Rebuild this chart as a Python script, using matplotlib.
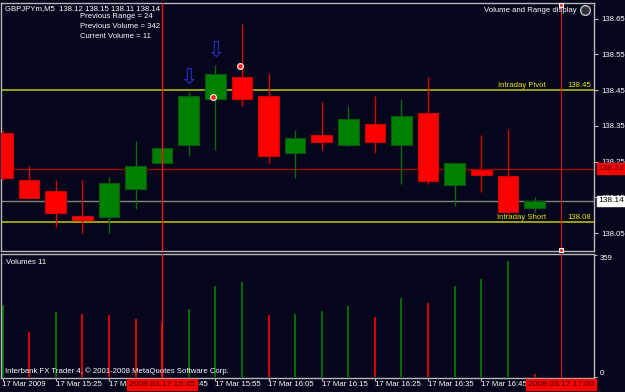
import matplotlib
matplotlib.use("Agg")
import matplotlib.pyplot as plt
from matplotlib.lines import Line2D
import numpy as np

# ---------------- data ----------------
times = ["15:15", "15:20", "15:25", "15:30", "15:35", "15:40", "15:45", "15:50",
         "15:55", "16:00", "16:05", "16:10", "16:15", "16:20", "16:25", "16:30",
         "16:35", "16:40", "16:45", "16:50", "16:55"]
opens = [138.33, 138.20, 138.167, 138.097, 138.095, 138.174, 138.245, 138.296,
         138.424, 138.486, 138.434, 138.274, 138.325, 138.296, 138.356, 138.296,
         138.386, 138.186, 138.227, 138.21, 138.12]
highs = [138.34, 138.237, 138.198, 138.198, 138.207, 138.307, 138.29, 138.445,
         138.52, 138.635, 138.495, 138.338, 138.416, 138.407, 138.434, 138.425,
         138.486, 138.25, 138.326, 138.34, 138.15]
lows = [138.20, 138.145, 138.067, 138.049, 138.049, 138.117, 138.243, 138.266,
        138.284, 138.406, 138.245, 138.205, 138.284, 138.294, 138.275, 138.187,
        138.187, 138.126, 138.165, 138.10, 138.11]
closes = [138.205, 138.147, 138.105, 138.087, 138.189, 138.237, 138.287, 138.434,
          138.495, 138.424, 138.266, 138.316, 138.305, 138.368, 138.305, 138.377,
          138.196, 138.246, 138.214, 138.11, 138.14]
volumes = [212, 134, 191, 186, 184, 171, 160, 200, 269, 279, 184, 186, 194, 209,
           177, 233, 219, 268, 289, 342, 11]

price_ticks = [138.05, 138.15, 138.25, 138.35, 138.45, 138.55, 138.65]
pivot_level = 138.45
short_level = 138.08
red_level = 138.23
bid_level = 138.14
time_tick_idx = [0, 2, 4, 6, 8, 10, 12, 14, 16, 18]
time_tick_labels = ["17 Mar 2009", "17 Mar 15:25", "17 Mar 15:35", "17 Mar 15:45",
                    "17 Mar 15:55", "17 Mar 16:05", "17 Mar 16:15", "17 Mar 16:25",
                    "17 Mar 16:35", "17 Mar 16:45"]
cursor_idx = 6
future_idx = 21
arrow_idx = [7, 8]
marker_pts = [(8, 138.43), (9, 138.517)]

# ---------------- style ----------------
BG = "#05051c"
GRID = "#b8b8b8"
GREEN = "#008000"
GREEN_EDGE = "#0a5a0a"
RED = "#ff0000"
YELLOW = "#b8b800"
YTEXT = "#e8e800"
FONT = "Liberation Sans"
FS = 5.6

plt.rcParams["font.family"] = [FONT, "DejaVu Sans"]

W, H = 625, 392
fig = plt.figure(figsize=(W / 100, H / 100), dpi=100, facecolor=BG)


def rect(l, t, r, b):
    return [l / W, 1 - b / H, (r - l) / W, (b - t) / H]


x0_px, step_px = 2.5, 26.6
xl = (1 - x0_px) / step_px
xr = (594 - x0_px) / step_px

ax = fig.add_axes(rect(1, 3, 594, 251), facecolor=BG, zorder=2)
axv = fig.add_axes(rect(1, 254, 594, 378), facecolor=BG, zorder=1)

for a in (ax, axv):
    a.set_xlim(xl, xr)
    for s in a.spines.values():
        s.set_color(GRID)
        s.set_linewidth(1.0)

ax.set_ylim(138.0, 138.694)
axv.set_ylim(-2, 362)

# candles
x = np.arange(len(opens))
for i in x:
    o, h, l, c = opens[i], highs[i], lows[i], closes[i]
    up = c >= o
    col = GREEN if up else RED
    wcol = "#0c6a0c" if up else "#e00000"
    ax.vlines(i, l, h, color=wcol, lw=1.0, zorder=2)
    body = max(abs(c - o), 0.004)
    ax.bar(i, body, bottom=min(o, c), width=0.78, color=col,
           edgecolor=GREEN_EDGE if up else "#d00000", linewidth=0.8, zorder=3)

# horizontal levels
ax.axhline(pivot_level, color=YELLOW, lw=1.2, zorder=1)
ax.axhline(short_level, color=YELLOW, lw=1.2, zorder=1)
ax.axhline(red_level, color="#a00000", lw=1.0, zorder=1)
ax.axhline(bid_level, color="#7c8a7c", lw=1.0, zorder=1)

ax.text((546 - x0_px) / step_px, pivot_level + 0.004, "Intraday Pivot",
        color=YTEXT, fontsize=FS, ha="right", va="bottom", zorder=5)
ax.text((591 - x0_px) / step_px, pivot_level + 0.004, "%.2f" % pivot_level,
        color=YTEXT, fontsize=FS, ha="right", va="bottom", zorder=5)
ax.text((546 - x0_px) / step_px, short_level + 0.004, "Intraday Short",
        color=YTEXT, fontsize=FS, ha="right", va="bottom", zorder=5)
ax.text((591 - x0_px) / step_px, short_level + 0.004, "%.2f" % short_level,
        color=YTEXT, fontsize=FS, ha="right", va="bottom", zorder=5)

# vertical lines
for a in (ax, axv):
    a.axvline(cursor_idx, color="#ff1010", lw=1.0, zorder=6)
    a.axvline(future_idx, color="#e01010", lw=0.8, zorder=6)
ax.plot([future_idx, future_idx], [138.689, 138.0015], ls="none", marker="s",
        ms=3.2, mfc="#ff3030", mec="white", mew=0.8, clip_on=False, zorder=7)

# arrows above candles
for i in arrow_idx:
    ax.annotate("\u21e9", xy=(i, highs[i]), xytext=(0, 3), textcoords="offset points",
                ha="center", va="bottom", fontsize=16, color="#2030c8",
                family="DejaVu Sans", zorder=6)
for (i, p) in marker_pts:
    ax.plot(i - 0.08, p, marker="o", ms=4.2, mfc="#ff2020", mec="#f0e0e0",
            mew=0.9, zorder=7)

# right price axis
ax.yaxis.tick_right()
ax.set_yticks(price_ticks)
ax.set_yticklabels(["%.2f" % t for t in price_ticks])
ax.tick_params(axis="y", direction="out", length=3, width=0.8, pad=2,
               colors=GRID, labelcolor="white", labelsize=FS)
ax.set_xticks([])

# price boxes
ax.text(1.008, red_level, "%.2f" % red_level, transform=ax.get_yaxis_transform(),
        fontsize=FS + 0.4, color="#500000", ha="left", va="center", zorder=8,
        clip_on=False,
        bbox=dict(boxstyle="square,pad=0.22", fc="#ff0000", ec="#ff0000"))
ax.text(1.008, bid_level, "%.2f" % bid_level, transform=ax.get_yaxis_transform(),
        fontsize=FS + 0.4, color="black", ha="left", va="center", zorder=8,
        clip_on=False,
        bbox=dict(boxstyle="square,pad=0.22", fc="white", ec="white"))

# volumes
prev = None
for i, v in enumerate(volumes):
    col = GREEN if (prev is None or v > prev) else RED
    axv.vlines(i, 0, v, color=col, lw=1.2, zorder=2)
    prev = v

axv.yaxis.tick_right()
axv.set_yticks([0, 359])
axv.set_yticklabels(["0", "359"])
axv.tick_params(axis="y", direction="out", length=2, width=0.8, pad=2,
                colors=GRID, labelcolor="white", labelsize=FS)
ylabs = axv.get_yticklabels()
ylabs[0].set_verticalalignment("bottom")
ylabs[1].set_verticalalignment("top")
axv.set_xticks(time_tick_idx)
axv.set_xticklabels(time_tick_labels)
axv.tick_params(axis="x", direction="out", length=2.5, width=0.8, pad=0,
                colors=GRID, labelcolor="white", labelsize=FS)
for lab in axv.get_xticklabels():
    lab.set_horizontalalignment("left")

# time boxes
for idx, txt in ((cursor_idx, "2009.03.17 " + times[cursor_idx]),
                 (future_idx, "2009.03.17 17:00")):
    axv.text(idx, -0.025, txt,
             transform=axv.get_xaxis_transform(), fontsize=FS + 0.4, color="#300000",
             ha="center", va="top", zorder=8, clip_on=False,
             bbox=dict(boxstyle="square,pad=0.2", fc="#ff0000", ec="#ff0000"))

axv.text(5 / 594, 1 - 8 / 124, "Volumes %d" % volumes[-1], transform=axv.transAxes,
         color="white", fontsize=FS, ha="left", va="center")
axv.text(4 / 594, 1 - 117 / 124,
         "Interbank FX Trader 4, \u00a9 2001-2008 MetaQuotes Software Corp.",
         transform=axv.transAxes, color="white", fontsize=FS, ha="left", va="center",
         zorder=9)

# header texts
hdr = "GBPJPYm,M5  %.2f %.2f %.2f %.2f" % (opens[-1], highs[-1], lows[-1], closes[-1])
fig.text(5 / W, 1 - 9 / H, hdr, color="white", fontsize=FS, ha="left", va="center",
         zorder=10)
rng = int(round((highs[-2] - lows[-2]) * 100))
fig.text(80 / W, 1 - 17 / H, "Previous Range = %d" % rng, color="white",
         fontsize=FS, ha="left", va="center", zorder=10)
fig.text(80 / W, 1 - 27 / H, "Previous Volume = %d" % volumes[-2], color="white",
         fontsize=FS, ha="left", va="center", zorder=10)
fig.text(80 / W, 1 - 37 / H, "Current Volume = %d" % volumes[-1], color="white",
         fontsize=FS, ha="left", va="center", zorder=10)
fig.text(577 / W, 1 - 10 / H, "Volume and Range display", color="white",
         fontsize=FS, ha="right", va="center", zorder=10)
icon = Line2D([585 / W], [1 - 10 / H], marker="o", ms=7, mfc="#303040",
              mec="#c0c0c0", mew=1.0, ls="none", transform=fig.transFigure)
icon.set_zorder(10)
fig.add_artist(icon)

fig.savefig("out.png", dpi=100, facecolor=BG)
